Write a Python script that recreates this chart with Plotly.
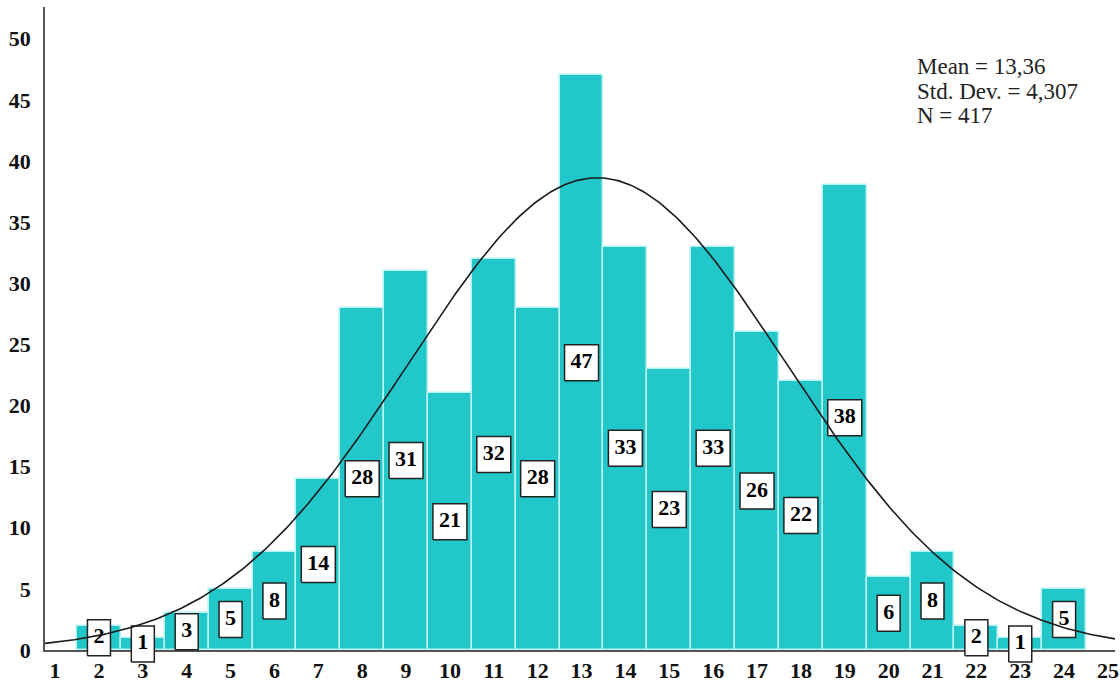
import numpy as np
import plotly.graph_objects as go

categories = list(range(2, 25))
counts = [2, 1, 3, 5, 8, 14, 28, 31, 21, 32, 28, 47, 33, 23, 33, 26, 22, 38, 6, 8, 2, 1, 5]
x_ticks = list(range(1, 26))
y_ticks = [0, 5, 10, 15, 20, 25, 30, 35, 40, 45, 50]
mean_val = 13.36
std_val = 4.307
n_val = 417
stats_lines = ["Mean = 13,36", "Std. Dev. = 4,307", "N = 417"]

x_range = [0.77, 25.16]
y_range = [0, 52.6]

W, H = 1120, 691
ml, mr, mt, mb = 45, 5, 7, 5
baseline_px = 650
pw = W - ml - mr
ph_all = H - mt - mb
below = (H - mb) - baseline_px          # px between baseline and bottom of overlay area
ph = baseline_px - mt                   # px of main plot area
y_dom0 = below / ph_all
x_per_px = (x_range[1] - x_range[0]) / pw
y_per_px = (y_range[1] - y_range[0]) / ph
y2_range = [y_range[0] - below * y_per_px, y_range[1]]

fig = go.Figure()
fig.add_trace(go.Bar(
    x=categories, y=counts, width=1.0,
    marker=dict(color="#22c8c9", line=dict(color="#b8f2f2", width=1.5)),
    hoverinfo="x+y", showlegend=False,
))

# label boxes (white, black border) centred at half bar height, on overlay axes
bx, by = [], []
for c, v in zip(categories, counts):
    hw = (12 + 11 * len(str(v))) / 2 * x_per_px
    hh = 36 / 2 * y_per_px
    yc = v / 2
    bx += [c - hw, c + hw, c + hw, c - hw, c - hw, None]
    by += [yc - hh, yc - hh, yc + hh, yc + hh, yc - hh, None]
fig.add_trace(go.Scatter(x=bx, y=by, xaxis="x2", yaxis="y2", mode="lines", fill="toself",
                         fillcolor="white", line=dict(color="#222", width=1.5),
                         hoverinfo="skip", showlegend=False))
fig.add_trace(go.Scatter(
    x=categories, y=[v / 2 for v in counts], xaxis="x2", yaxis="y2", mode="text",
    text=[str(v) for v in counts], textposition="middle center",
    textfont=dict(family="Liberation Serif", size=22, color="black", weight="bold"),
    hoverinfo="skip", showlegend=False,
))

xs = np.linspace(x_range[0], x_range[1], 400)
ys = n_val * np.exp(-0.5 * ((xs - mean_val) / std_val) ** 2) / (std_val * np.sqrt(2 * np.pi))
fig.add_trace(go.Scatter(x=xs, y=ys, xaxis="x2", yaxis="y2", mode="lines",
                         line=dict(color="#1a1a1a", width=1.6), showlegend=False))

annotations = []
for i, line in enumerate(stats_lines):
    annotations.append(dict(
        x=(915 - ml) / pw, y=1 - (66 + 25 * i - mt) / ph_all, xref="paper", yref="paper",
        text=line, showarrow=False, align="left", xanchor="left", yanchor="middle",
        font=dict(family="Liberation Serif", size=23, color="#222"),
    ))

tickfont = dict(family="Liberation Serif", size=22, color="#111", weight="bold")
fig.update_layout(
    width=W, height=H,
    margin=dict(l=ml, r=mr, t=mt, b=mb, autoexpand=False),
    plot_bgcolor="rgba(0,0,0,0)", paper_bgcolor="white",
    bargap=0,
    annotations=annotations,
    xaxis=dict(range=x_range, domain=[0, 1], anchor="y", tickmode="array", tickvals=x_ticks,
               ticktext=[str(t) for t in x_ticks], showgrid=False, zeroline=False,
               showline=True, linecolor="#555", linewidth=1.5, ticks="",
               automargin=False, tickfont=tickfont),
    yaxis=dict(range=y_range, domain=[y_dom0, 1], anchor="x", tickmode="array",
               tickvals=y_ticks, ticktext=[str(t) for t in y_ticks], showgrid=False,
               zeroline=False, showline=True, linecolor="#555", linewidth=1.5, ticks="",
               automargin=False, ticklabelstandoff=8, tickfont=tickfont),
    xaxis2=dict(range=x_range, domain=[0, 1], anchor="y2", visible=False, automargin=False),
    yaxis2=dict(range=y2_range, domain=[0, 1], anchor="x2", visible=False, automargin=False),
)

fig.write_html("out.html")
